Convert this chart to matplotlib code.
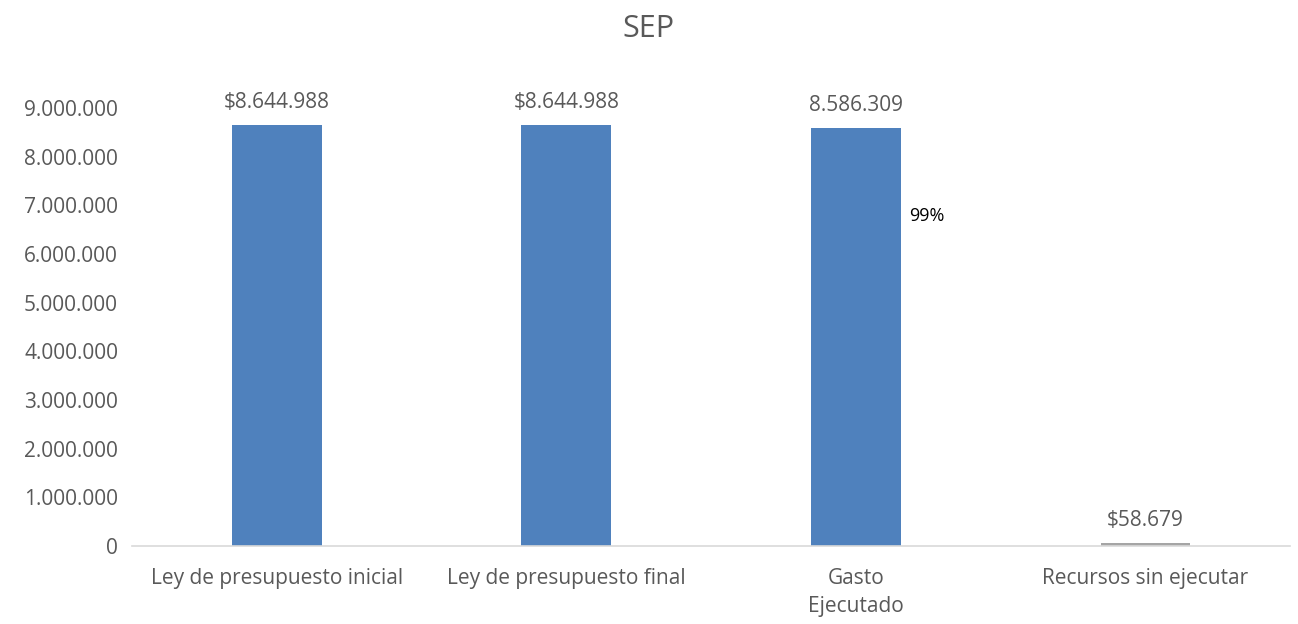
import matplotlib.pyplot as plt
from matplotlib.ticker import FuncFormatter

categorias = ["Ley de presupuesto inicial", "Ley de presupuesto final",
              "Gasto\nEjecutado", "Recursos sin ejecutar"]
valores = [8644988, 8644988, 8586309, 58679]
etiquetas = ["$8.644.988", "$8.644.988", "8.586.309", "$58.679"]
colores = ["#4F81BD", "#4F81BD", "#4F81BD", "#A5A5A5"]


def miles(x, pos):
    return f"{int(x):,}".replace(",", ".")


def main():
    plt.rcParams["font.family"] = ["Open Sans", "DejaVu Sans"]
    gris = "#595959"

    fig = plt.figure(figsize=(12.98, 6.24), dpi=100)
    ax = fig.add_axes([0.1017, 0.125, 0.8923, 0.702])

    x = range(len(categorias))
    barras = ax.bar(x, valores, width=0.31, color=colores)

    for b, txt in zip(barras, etiquetas):
        ax.annotate(txt, (b.get_x() + b.get_width() / 2, b.get_height()),
                    xytext=(0, 9), textcoords="offset points",
                    ha="center", va="bottom", fontsize=15, color=gris,
                    annotation_clip=False)

    # porcentaje de ejecución
    pct = valores[2] / valores[1] * 100
    b = barras[2]
    ax.text(b.get_x() + b.get_width() + 0.03, valores[2] * 0.79,
            f"{pct:.0f}%", ha="left", va="center", fontsize=13, color="black")

    ax.set_xlim(-0.5, len(categorias) - 0.5)
    ax.set_ylim(0, 9000000)
    ax.set_yticks(range(0, 9000001, 1000000))
    ax.yaxis.set_major_formatter(FuncFormatter(miles))
    ax.set_xticks(list(x))
    ax.set_xticklabels(categorias, linespacing=1.4)

    for s in ["top", "right", "left"]:
        ax.spines[s].set_visible(False)
    ax.spines["bottom"].set_color("#D9D9D9")
    ax.spines["bottom"].set_linewidth(1.2)
    ax.tick_params(axis="both", length=0, labelsize=15, colors=gris)
    ax.tick_params(axis="y", pad=10)
    ax.tick_params(axis="x", pad=16)

    fig.suptitle("SEP", y=0.978, fontsize=22, color=gris)
    fig.savefig("out.png", dpi=100)


if __name__ == "__main__":
    main()
